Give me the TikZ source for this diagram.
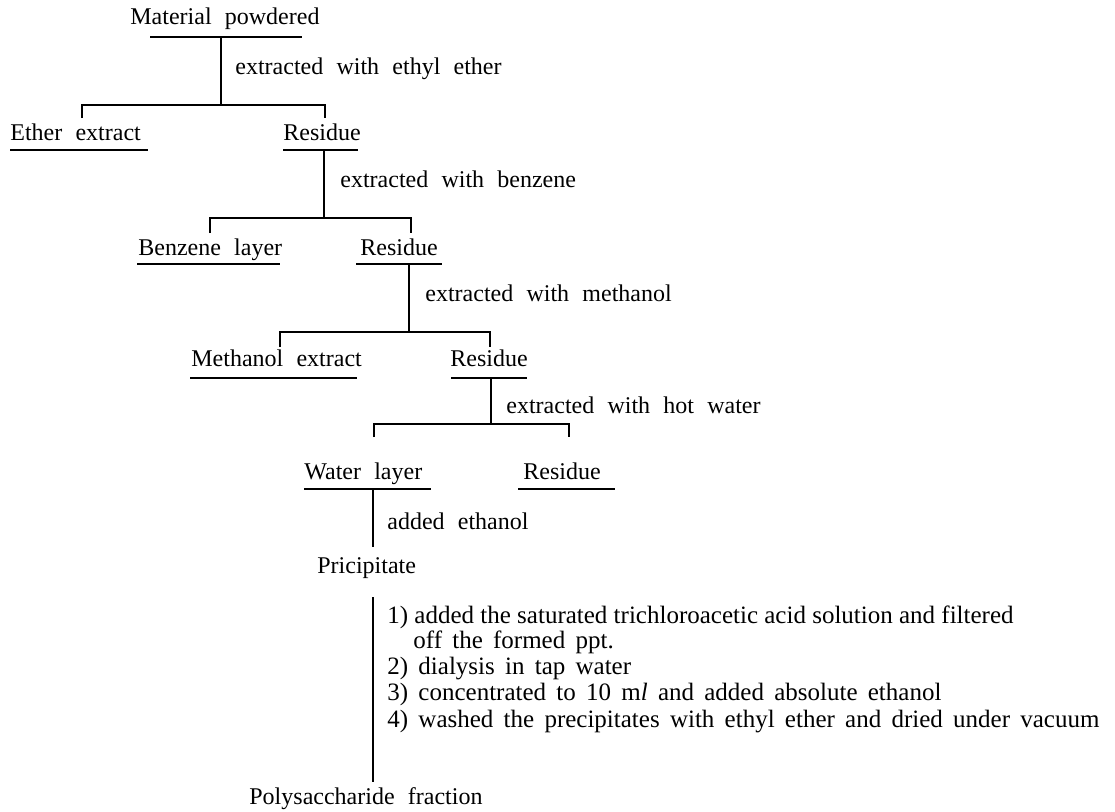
\documentclass[tikz,border=0pt]{standalone}
\usepackage{fontspec}
\setmainfont{Liberation Serif}
\newcommand\widesp{\fontsize{12}{15}\selectfont\spaceskip=0.55em plus 0.1em\relax}
\newcommand\stepsp{\fontsize{12.5}{15}\selectfont\spaceskip=0.41em plus 0.1em\relax}
\begin{document}
\begin{tikzpicture}[x=0.5pt,y=-0.5pt,
  lbl/.style={anchor=base west,inner sep=0pt,font=\widesp},
  stp/.style={anchor=base west,inner sep=0pt,font=\stepsp},
  stpn/.style={anchor=base west,inner sep=0pt,font=\fontsize{12.5}{15}\selectfont},
  ln/.style={line width=0.8pt}]
\useasboundingbox (0,0) rectangle (1115,811);
% texts
\node[lbl] (mat) at (130,24) {Material powdered};
\node[lbl] (l1) at (235,74) {extracted with ethyl ether};
\node[lbl] (ether) at (10,140) {Ether extract};
\node[lbl] (res1) at (283,140) {Residue};
\node[lbl] (l2) at (340,187) {extracted with benzene};
\node[lbl] (benz) at (138,255) {Benzene layer};
\node[lbl] (res2) at (360,255) {Residue};
\node[lbl] (l3) at (425,301) {extracted with methanol};
\node[lbl] (meth) at (191,366) {Methanol extract};
\node[lbl] (res3) at (450,366) {Residue};
\node[lbl] (l4) at (506,413) {extracted with hot water};
\node[lbl] (water) at (304,479) {Water layer};
\node[lbl] (res4) at (523,479) {Residue};
\node[lbl] (l5) at (387,529) {added ethanol};
\node[lbl] (prec) at (317,573) {Pricipitate};
\node[stpn] (s1) at (387,623) {1)\ added the saturated trichloroacetic acid solution and filtered};
\node[stp] (s1b) at (413,648) {off the formed ppt.};
\node[stp] (s2) at (387,674) {2)\ dialysis in tap water};
\node[stp] (s3) at (387,700) {3)\ concentrated to 10 m\textit{l} and added absolute ethanol};
\node[stp] (s4) at (387,727) {4)\ washed the precipitates with ethyl ether and dried under vacuum};
\node[lbl] (poly) at (249,804) {Polysaccharide fraction};
% underlines
\draw[ln] (150,37) -- (302,37);
\draw[ln] (10,150) -- (148,150);
\draw[ln] (283,150) -- (358,150);
\draw[ln] (137,264) -- (280,264);
\draw[ln] (356,264) -- (442,264);
\draw[ln] (190,378) -- (357,378);
\draw[ln] (451,378) -- (527,378);
\draw[ln] (304,489) -- (431,489);
\draw[ln] (518,489) -- (615,489);
% coordinates
\coordinate (a0) at (221,37); \coordinate (a1) at (221,105);
\coordinate (b0) at (324,150); \coordinate (b1) at (324,218);
\coordinate (c0) at (409,264); \coordinate (c1) at (409,332);
\coordinate (d0) at (491,378); \coordinate (d1) at (491,424);
\coordinate (e0) at (373,489); \coordinate (e1) at (373,547);
\coordinate (f0) at (373,597); \coordinate (f1) at (373,782);
% connectors
\draw[ln] (a0) -- (a1);
\draw[ln] (82,118) |- (a1) -| (325,118);
\draw[ln] (b0) -- (b1);
\draw[ln] (210,233) |- (b1) -| (411,233);
\draw[ln] (c0) -- (c1);
\draw[ln] (280,347) |- (c1) -| (490,347);
\draw[ln] (d0) -- (d1);
\draw[ln] (374,437) |- (d1) -| (569,437);
\draw[ln] (e0) -- (e1);
\draw[ln] (f0) -- (f1);
\end{tikzpicture}
\end{document}
